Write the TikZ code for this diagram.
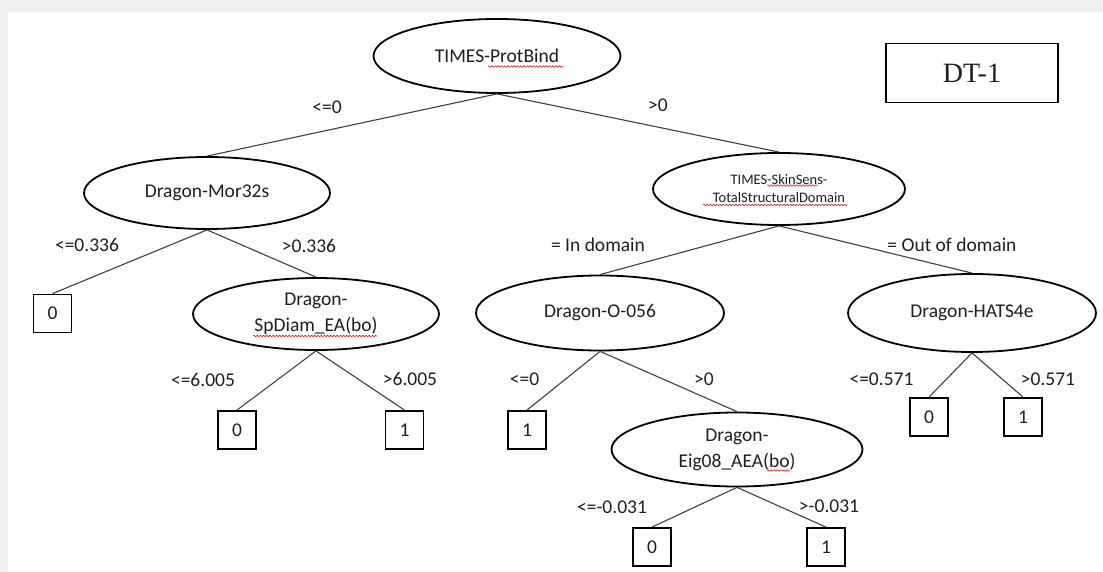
\documentclass[tikz,border=0pt]{standalone}
\usepackage{fontspec}
\setmainfont{Carlito}
\newfontfamily\timesfont{Liberation Serif}
\usetikzlibrary{shapes.geometric,decorations.pathmorphing}
\begin{document}
\begin{tikzpicture}[x=1pt,y=-1pt,
  every node/.style={font=\fontsize{19.5}{26}\selectfont, text=black!88},
  dnode/.style={draw, ellipse, line width=1.8pt, inner sep=0pt, align=center},
  leaf/.style={draw, rectangle, line width=1.8pt, minimum width=38pt, minimum height=38pt, inner sep=0pt},
  lbl/.style={inner sep=0pt},
  conn/.style={draw=black!75, line width=1.1pt},
  spell/.style={draw=red!80!black, line width=0.5pt, decorate, decoration={snake, amplitude=0.8pt, segment length=3.2pt}}
]
\useasboundingbox (0,0) rectangle (1103,572);
\fill[black!6] (0,0) rectangle (1103,572);
\fill[white] (8,12) rectangle (1103,572);

% decision nodes
\node[dnode, minimum width=247pt, minimum height=74pt] (root) at (497,56) {TIMES-ProtBind};
\node[dnode, minimum width=246pt, minimum height=72pt] (mor) at (207,193) {Dragon-Mor32s};
\node[dnode, minimum width=252pt, minimum height=72pt, font=\fontsize{14.5}{18}\selectfont] (skin) at (779,189) {TIMES-SkinSens-\\TotalStructuralDomain};
\node[dnode, minimum width=246pt, minimum height=72pt] (spd) at (316,314) {Dragon-\\SpDiam\_EA(bo)};
\node[dnode, minimum width=248pt, minimum height=75pt] (o56) at (600,313) {Dragon-O-056};
\node[dnode, minimum width=248pt, minimum height=78pt] (hats) at (972,313) {Dragon-HATS4e};
\node[dnode, minimum width=251pt, minimum height=74pt] (eig) at (737,449.5) {Dragon-\\Eig08\_AEA(bo)};

% leaves
\node[leaf] (l1) at (52.5,313.5) {0};
\node[leaf] (l2) at (237,430) {0};
\node[leaf] (l3) at (404.5,430) {1};
\node[leaf] (l4) at (527,430) {1};
\node[leaf] (l5) at (929,417) {0};
\node[leaf] (l6) at (1023,417) {1};
\node[leaf] (l7) at (652,547) {0};
\node[leaf] (l8) at (826,547) {1};

% title box
\node[draw, line width=1.8pt, minimum width=172pt, minimum height=59pt, inner sep=0pt, font=\timesfont\fontsize{28}{30}\selectfont] (dt) at (972,73) {DT-1};

% connectors
\draw[conn] (root.south) -- (mor.north);
\draw[conn] (root.south) -- (skin.north);
\draw[conn] (mor.south) -- (l1.north);
\draw[conn] (mor.south) -- (spd.north);
\draw[conn] (spd.south) -- (l2.north);
\draw[conn] (spd.south) -- (l3.north);
\draw[conn] (skin.south) -- (o56.north);
\draw[conn] (skin.south) -- (hats.north);
\draw[conn] (o56.south) -- (l4.north);
\draw[conn] (o56.south) -- (eig.north);
\draw[conn] (hats.south) -- (l5.north);
\draw[conn] (hats.south) -- (l6.north);
\draw[conn] (eig.south) -- (l7.north);
\draw[conn] (eig.south) -- (l8.north);

% branch labels
\node[lbl] (b1) at (327,107) {<=0};
\node[lbl] (b2) at (658,105) {>0};
\node[lbl] (b3) at (87,245) {<=0.336};
\node[lbl] (b4) at (309,246) {>0.336};
\node[lbl] (b5) at (598,245) {= In domain};
\node[lbl] (b6) at (952,245) {= Out of domain};
\node[lbl] (b7) at (203,380) {<=6.005};
\node[lbl] (b8) at (410,379) {>6.005};
\node[lbl] (b9) at (524.5,379) {<=0};
\node[lbl] (b10) at (704,379) {>0};
\node[lbl] (b11) at (881.5,379) {<=0.571};
\node[lbl] (b12) at (1048,379) {>0.571};
\node[lbl] (b13) at (612,507) {<=-0.031};
\node[lbl] (b14) at (829,506) {>-0.031};

% spell-check underlines
\draw[spell] (488,66.5) -- (563,66.5);
\draw[spell] (767,185.5) -- (818,185.5);
\draw[spell] (703,205) -- (848,205);
\draw[spell] (253,336) -- (377,336);
\draw[spell] (767,470.5) -- (790,470.5);
\end{tikzpicture}
\end{document}
